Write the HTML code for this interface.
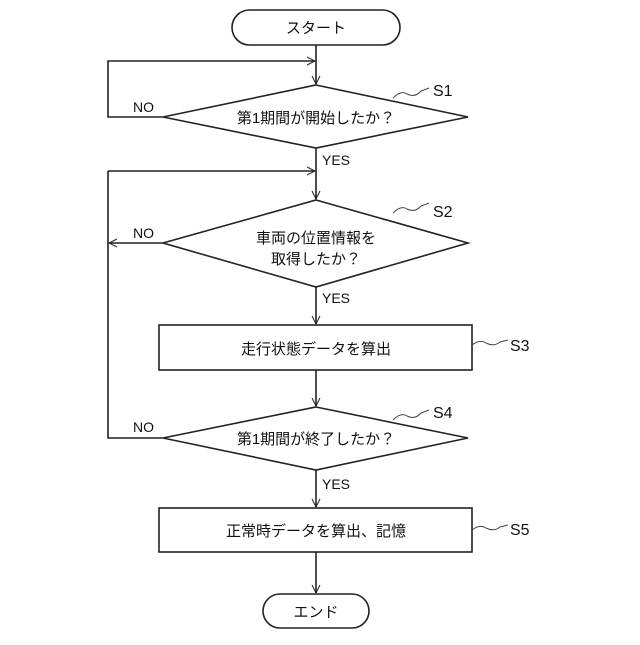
<!DOCTYPE html>
<html><head><meta charset="utf-8"><style>
body{margin:0;background:#fff}
svg text{font-family:"Liberation Sans","Noto Sans CJK JP",sans-serif;fill:#111}
</style></head><body>
<svg width="640" height="640" viewBox="0 0 640 640" xmlns="http://www.w3.org/2000/svg">
<defs><marker id="a" markerWidth="10" markerHeight="10" refX="9" refY="5" orient="auto" markerUnits="userSpaceOnUse"><path d="M1,1 L9,5 L1,9" fill="none" stroke="#222" stroke-width="1"/></marker></defs>
<g stroke="#222" stroke-width="1.6" fill="none">
<rect x="232" y="10" width="168" height="35" rx="17.5" fill="#fff"/>
<line x1="316" y1="45" x2="316" y2="84" marker-end="url(#a)"/>
<polyline points="163,117 108,117 108,61 315,61" marker-end="url(#a)"/>
<polygon points="316,85 468,117 316,148 163,117" fill="#fff"/>
<line x1="316" y1="148" x2="316" y2="199" marker-end="url(#a)"/>
<polyline points="108,243 108,438 163,438"/>
<line x1="108" y1="171" x2="315" y2="171" marker-end="url(#a)"/>
<line x1="108" y1="171" x2="108" y2="243"/>
<line x1="163" y1="243" x2="109" y2="243" marker-end="url(#a)"/>
<polygon points="316,200 468,243 316,287 163,243" fill="#fff"/>
<line x1="316" y1="287" x2="316" y2="324" marker-end="url(#a)"/>
<rect x="159" y="325" width="313" height="45" fill="#fff"/>
<line x1="316" y1="370" x2="316" y2="406" marker-end="url(#a)"/>
<polygon points="316,407 468,438 316,470 163,438" fill="#fff"/>
<line x1="316" y1="470" x2="316" y2="507" marker-end="url(#a)"/>
<rect x="159" y="508" width="313" height="44" fill="#fff"/>
<line x1="316" y1="552" x2="316" y2="593" marker-end="url(#a)"/>
<rect x="263" y="594" width="106" height="34" rx="17" fill="#fff"/>
</g>
<g stroke="#444" stroke-width="1" fill="none">
<path d="M393,98 q8,-8 14,-4 q8,4 14,-3 l8,-3"/>
<path d="M393,213 q8,-8 14,-4 q8,4 14,-3 l8,-3"/>
<path d="M472,345 q8,-6 14,-2 q8,4 14,-1 l8,-2"/>
<path d="M393,420 q8,-8 14,-4 q8,4 14,-3 l8,-3"/>
<path d="M472,530 q8,-6 14,-2 q8,4 14,-1 l8,-2"/>
</g>
<g font-size="15" text-anchor="middle">
<text x="316" y="33">スタート</text>
<text x="316" y="123">第1期間が開始したか？</text>
<text x="316" y="243">車両の位置情報を</text>
<text x="316" y="264">取得したか？</text>
<text x="316" y="354">走行状態データを算出</text>
<text x="316" y="444">第1期間が終了したか？</text>
<text x="316" y="536">正常時データを算出、記憶</text>
<text x="316" y="617">エンド</text>
</g>
<g font-size="14">
<text x="133" y="112">NO</text>
<text x="133" y="238">NO</text>
<text x="133" y="432">NO</text>
<text x="322" y="165">YES</text>
<text x="322" y="303">YES</text>
<text x="322" y="489">YES</text>
</g>
<g font-size="16">
<text x="433" y="96">S1</text>
<text x="433" y="217">S2</text>
<text x="510" y="351">S3</text>
<text x="433" y="418">S4</text>
<text x="510" y="535">S5</text>
</g>
</svg>
</body></html>
